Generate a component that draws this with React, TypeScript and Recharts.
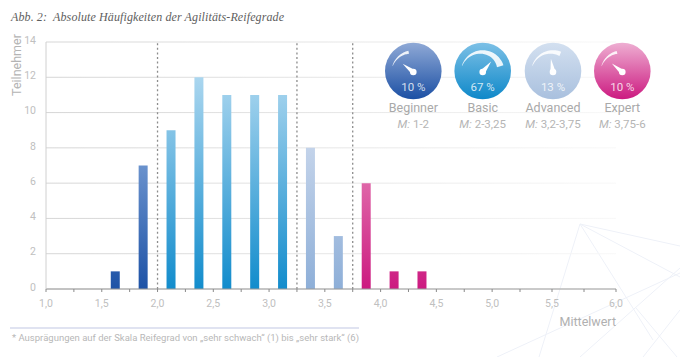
import React from "react";
import { BarChart, Bar, Cell, XAxis, YAxis, CartesianGrid, ReferenceLine } from "recharts";

const binCentres = [1.625, 1.875, 2.125, 2.375, 2.625, 2.875, 3.125, 3.375, 3.625, 3.875, 4.125, 4.375];
const participants = [1, 7, 9, 12, 11, 11, 11, 8, 3, 6, 1, 1];
const groups = ["beginner", "beginner", "basic", "basic", "basic", "basic", "basic", "advanced", "advanced", "expert", "expert", "expert"];
const xTicks = [1, 1.25, 1.5, 1.75, 2, 2.25, 2.5, 2.75, 3, 3.25, 3.5, 3.75, 4, 4.25, 4.5, 4.75, 5, 5.25, 5.5, 5.75, 6];
const yTicks = [0, 2, 4, 6, 8, 10, 12, 14];
const boundaries = [2, 3.25, 3.75];

const badgeNames = ["Beginner", "Basic", "Advanced", "Expert"];
const badgeShares = ["10 %", "67 %", "13 %", "10 %"];
const badgeRanges = ["1-2", "2-3,25", "3,2-3,75", "3,75-6"];
const badgeCentres = [413.3, 482.7, 553, 622.3];
const badgeArcEnd = [-13, 72, 22, -15];
const badgeNeedle = [-52, 39, -9, -51];
const badgeTop = ["#8fa9d6", "#7cc0e6", "#d3e0f0", "#eeaed2"];
const badgeBottom = ["#1c50a4", "#0e88c9", "#a9c0de", "#cc1a80"];

const rows = binCentres.map((x, i) => ({ x, n: participants[i], g: groups[i] }));

// Axis of the print original: evenly spaced up to 5,25, a little wider after it.
const knotsIn = [1, 5.25, 6];
const knotsOut = [0, 0.8316, 1];
function makeScale(dom: number[] = [1, 6], rng: number[] = [0, 1]) {
  const s: any = (v: number) => {
    let t = knotsOut[1];
    if (v <= knotsIn[1]) t = knotsOut[0] + ((v - knotsIn[0]) / (knotsIn[1] - knotsIn[0])) * (knotsOut[1] - knotsOut[0]);
    else t = knotsOut[1] + ((v - knotsIn[1]) / (knotsIn[2] - knotsIn[1])) * (knotsOut[2] - knotsOut[1]);
    return rng[0] + t * (rng[1] - rng[0]);
  };
  s.domain = (d?: number[]) => (d ? makeScale(d, rng) : dom);
  s.range = (r?: number[]) => (r ? makeScale(dom, r) : rng);
  s.copy = () => makeScale(dom, rng);
  s.ticks = () => xTicks;
  s.invert = (p: number) => dom[0] + ((p - rng[0]) / (rng[1] - rng[0])) * (dom[1] - dom[0]);
  return s;
}

const FONT = "Roboto, sans-serif";
const deco = [
  [580, 224, 539, 357], [580, 224, 653, 340], [580, 224, 680, 277], [580, 224, 680, 246],
  [497, 357, 680, 273], [580, 357, 680, 268], [636, 308, 677, 357], [643, 357, 680, 310],
];

function Badge({ i }: { i: number }) {
  const cx = badgeCentres[i];
  const cy = 71;
  const px = cx;
  const py = 72;
  const start = -73;
  const end = badgeArcEnd[i];
  const outer: string[] = [];
  const inner: string[] = [];
  const steps = 24;
  for (let k = 0; k <= steps; k++) {
    const a = start + ((end - start) * k) / steps;
    const th = 0.4 + ((a - start) / 145) * 6.4;
    const rad = (a * Math.PI) / 180;
    outer.push(`${px + 21.8 * Math.sin(rad)},${py - 21.8 * Math.cos(rad)}`);
    inner.unshift(`${px + (21.8 - th) * Math.sin(rad)},${py - (21.8 - th) * Math.cos(rad)}`);
  }
  const n = (badgeNeedle[i] * Math.PI) / 180;
  const tip = [px + 13.5 * Math.sin(n), py - 13.5 * Math.cos(n)];
  const side = [Math.cos(n) * 2.6, Math.sin(n) * 2.6];
  return (
    <g>
      <defs>
        <linearGradient id={`badge${i}`} x1="0" y1="0" x2="0" y2="1">
          <stop offset="0" stopColor={badgeTop[i]} />
          <stop offset="1" stopColor={badgeBottom[i]} />
        </linearGradient>
      </defs>
      <circle cx={cx} cy={cy} r={28.3} fill={`url(#badge${i})`} />
      <polygon points={outer.concat(inner).join(" ")} fill="#fff" opacity={0.88} />
      <polygon points={`${tip[0]},${tip[1]} ${px + side[0]},${py + side[1]} ${px - side[0]},${py - side[1]}`} fill="#fff" />
      <circle cx={px} cy={py} r={3.3} fill="#fff" />
      <text x={cx} y={91} textAnchor="middle" fill="#fff" fillOpacity={0.8} fontFamily={FONT} fontSize={11.5}>
        {badgeShares[i]}
      </text>
      <text x={cx} y={111.5} textAnchor="middle" fill="#a9a9a9" fontFamily={FONT} fontSize={12.5}>
        {badgeNames[i]}
      </text>
      <text x={cx} y={128} textAnchor="middle" fill="#b5b5b5" fontFamily={FONT} fontSize={11.5}>
        <tspan fontStyle="italic">M:</tspan> {badgeRanges[i]}
      </text>
    </g>
  );
}

export default function App() {
  return (
    <div style={{ position: "absolute", left: 0, top: 0, width: 680, height: 357, background: "#fff", overflow: "hidden" }}>
      <svg width={680} height={357} style={{ position: "absolute", left: 0, top: 0 }}>
        {deco.map((d, i) => (
          <line key={i} x1={d[0]} y1={d[1]} x2={d[2]} y2={d[3]} stroke="#eef1f8" strokeWidth={1} />
        ))}
      </svg>
      <div style={{ position: "absolute", left: 0, top: 0 }}>
        <BarChart width={680} height={357} data={rows} margin={{ left: 16, right: 64, top: 42, bottom: 48 }} barSize={9}>
          <defs>
            <linearGradient id="gridFade" gradientUnits="userSpaceOnUse" x1="46" y1="0" x2="616" y2="0">
              <stop offset="0" stopColor="#d6d6d6" />
              <stop offset="0.5" stopColor="#e6e6e6" />
              <stop offset="1" stopColor="#f8f8f8" />
            </linearGradient>
            <linearGradient id="beginner" gradientUnits="userSpaceOnUse" x1="0" y1="165" x2="0" y2="289">
              <stop offset="0" stopColor="#6a92cd" />
              <stop offset="1" stopColor="#1d52a6" />
            </linearGradient>
            <linearGradient id="basic" gradientUnits="userSpaceOnUse" x1="0" y1="78" x2="0" y2="289">
              <stop offset="0" stopColor="#aad6ef" />
              <stop offset="1" stopColor="#128cCc" />
            </linearGradient>
            <linearGradient id="advanced" gradientUnits="userSpaceOnUse" x1="0" y1="148" x2="0" y2="289">
              <stop offset="0" stopColor="#c3d3ea" />
              <stop offset="1" stopColor="#8eafd8" />
            </linearGradient>
            <linearGradient id="expert" gradientUnits="userSpaceOnUse" x1="0" y1="183" x2="0" y2="289">
              <stop offset="0" stopColor="#df66a8" />
              <stop offset="1" stopColor="#cc1a80" />
            </linearGradient>
          </defs>
          <CartesianGrid vertical={false} stroke="url(#gridFade)" strokeWidth={1} />
          <XAxis
            dataKey="x"
            type="number"
            domain={[1, 6]}
            scale={makeScale() as any}
            ticks={xTicks}
            interval={0}
            height={20}
            tickLine={{ stroke: "#8a8a8a" }}
            tickSize={3}
            axisLine={{ stroke: "#9a9a9a", strokeWidth: 1 }}
            tick={(p: any) =>
              Number.isInteger(p.payload.value * 2) ? (
                <text x={p.x} y={p.y + 13} textAnchor="middle" fontFamily={FONT} fontSize={10.5} fill="#c0c0c0">
                  {p.payload.value.toFixed(1).replace(".", ",")}
                </text>
              ) : (
                <g />
              )
            }
          />
          <YAxis
            type="number"
            domain={[0, 14]}
            ticks={yTicks}
            interval={0}
            width={30}
            tickLine={false}
            axisLine={{ stroke: "#d0d0d0" }}
            tick={{ fontFamily: FONT, fontSize: 10.5, fill: "#c0c0c0", dx: -2, dy: -2 }}
          />
          {boundaries.map((b) => (
            <ReferenceLine key={b} x={b} stroke="#8c8c8c" strokeWidth={1.3} strokeDasharray="2 2.6" />
          ))}
          <Bar dataKey="n" isAnimationActive={false}>
            {rows.map((r, i) => (
              <Cell key={i} fill={`url(#${r.g})`} />
            ))}
          </Bar>
        </BarChart>
      </div>
      <svg width={680} height={357} style={{ position: "absolute", left: 0, top: 0 }}>
        <text x={11} y={20.5} fontFamily="'Liberation Serif', serif" fontStyle="italic" fontSize={12} fill="#5e5e5e" textLength={273} lengthAdjust="spacing" xmlSpace="preserve">
          Abb. 2:  Absolute Häufigkeiten der Agilitäts-Reifegrade
        </text>
        <text transform="translate(20.5,65) rotate(-90)" textAnchor="middle" fontFamily={FONT} fontSize={12.5} fill="#b4b4b4">
          Teilnehmer
        </text>
        <text x={616} y={326} textAnchor="end" fontFamily={FONT} fontSize={12.5} fill="#b0b0b0">
          Mittelwert
        </text>
        <line x1={10} y1={328} x2={359} y2={328} stroke="#d6daec" strokeWidth={1.5} />
        <text x={12} y={341} fontFamily={FONT} fontSize={9.8} fill="#b8b8b8" textLength={347} lengthAdjust="spacingAndGlyphs">
          * Ausprägungen auf der Skala Reifegrad von „sehr schwach“ (1) bis „sehr stark“ (6)
        </text>
        {badgeNames.map((_, i) => (
          <Badge key={i} i={i} />
        ))}
      </svg>
    </div>
  );
}
